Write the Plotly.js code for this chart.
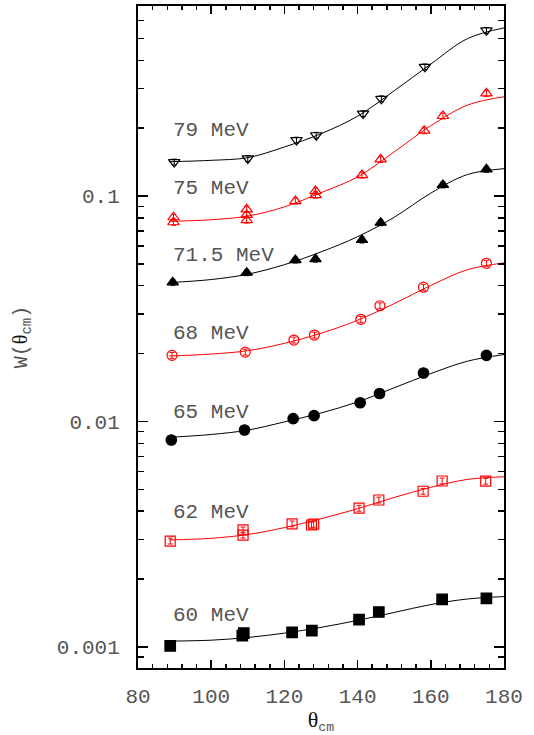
<!DOCTYPE html>
<html><head><meta charset="utf-8">
<script src="https://cdn.plot.ly/plotly-3.0.1.min.js"></script>
<style>html,body{margin:0;padding:0;background:#fff}</style>
</head><body><div id="chart" style="width:534px;height:735px"></div>
<script>
// measured points
const theta60 = [88.8, 108.5, 108.9, 122.1, 127.5, 140.4, 145.8, 163.1, 175.2];
const w60 = [0.00101, 0.00112, 0.00115, 0.00116, 0.001179, 0.001319, 0.001427, 0.001625, 0.001641];
const theta62 = [88.8, 108.7, 108.7, 122.1, 127.4, 128.0, 140.4, 145.8, 157.9, 163.1, 175.0];
const w62 = [0.002946, 0.00330, 0.00313, 0.00351, 0.00347, 0.00350, 0.00412, 0.00448, 0.00490, 0.00544, 0.00543];
const theta65 = [89.1, 109.1, 122.4, 128.1, 140.7, 146.0, 158.0, 175.2];
const w65 = [0.00827, 0.00916, 0.01028, 0.0106, 0.0121, 0.0133, 0.0164, 0.01964];
const theta68 = [89.3, 109.3, 122.6, 128.2, 140.9, 146.1, 158.0, 175.2];
const w68 = [0.01964, 0.0203, 0.02296, 0.02416, 0.02838, 0.0326, 0.0394, 0.0503];
const theta715 = [89.5, 109.7, 123.0, 128.5, 141.2, 146.3, 163.3, 175.2];
const w715 = [0.0414, 0.0457, 0.0520, 0.0525, 0.0638, 0.0761, 0.112, 0.1314];
const theta75 = [89.7, 89.7, 109.7, 109.7, 109.7, 123.0, 128.5, 128.5, 141.2, 146.3, 158.2, 163.3, 175.2];
const w75 = [0.0805, 0.0765, 0.0873, 0.0824, 0.0782, 0.0950, 0.1052, 0.1010, 0.1239, 0.1455, 0.1949, 0.2265, 0.2855];
const theta79 = [89.9, 110.0, 123.3, 128.7, 141.5, 146.5, 158.4, 175.2];
const w79 = [0.1415, 0.1468, 0.177, 0.186, 0.232, 0.270, 0.374, 0.543];

// fitted curves
const fitTheta = [88.5, 100, 110, 120, 130, 140, 150, 160, 170, 180];
const fit60 = [0.00106, 0.00107, 0.00110, 0.00115, 0.00122, 0.00131, 0.00142, 0.00154, 0.00163, 0.00167];
const fit62 = [0.00298, 0.00303, 0.00315, 0.00338, 0.00370, 0.00410, 0.00460, 0.00510, 0.00553, 0.00568];
const fit65 = [0.0085, 0.00875, 0.00915, 0.00995, 0.0109, 0.0122, 0.0141, 0.0163, 0.0185, 0.0198];
const fit68 = [0.0195, 0.0199, 0.0206, 0.0222, 0.0246, 0.0281, 0.0333, 0.0401, 0.0471, 0.0505];
const fit715 = [0.0413, 0.0426, 0.0450, 0.0496, 0.0565, 0.0660, 0.0805, 0.1030, 0.1245, 0.1322];
const fit75 = [0.0772, 0.0785, 0.0815, 0.0895, 0.1035, 0.1215, 0.157, 0.205, 0.253, 0.2757];
const fit79 = [0.142, 0.144, 0.148, 0.165, 0.189, 0.226, 0.293, 0.385, 0.499, 0.557];

const energyLabels = ['60 MeV', '62 MeV', '65 MeV', '68 MeV', '71.5 MeV', '75 MeV', '79 MeV'];
const labelY = [0.001384, 0.00395, 0.01094, 0.0246, 0.0542, 0.108, 0.196];
const labelTheta = 89.1;

const yMajor = [0.001, 0.01, 0.1];
const yMajorText = ['0.001', '0.01', '0.1'];
const yMinor = [0.0009, 0.002, 0.003, 0.004, 0.005, 0.006, 0.007, 0.008, 0.009,
                0.02, 0.03, 0.04, 0.05, 0.06, 0.07, 0.08, 0.09, 0.2, 0.3, 0.4, 0.5, 0.6];
const errPercent = 3;

const RED = '#ff0000', BLK = '#000000';
const series = [
  {t: theta60, w: w60, f: fit60, c: BLK, s: 'square', sz: 10.5},
  {t: theta62, w: w62, f: fit62, c: RED, s: 'square-open', sz: 10},
  {t: theta65, w: w65, f: fit65, c: BLK, s: 'circle', sz: 10.5},
  {t: theta68, w: w68, f: fit68, c: RED, s: 'circle-open', sz: 10},
  {t: theta715, w: w715, f: fit715, c: BLK, s: 'triangle-up', sz: 10},
  {t: theta75, w: w75, f: fit75, c: RED, s: 'triangle-up-open', sz: 10},
  {t: theta79, w: w79, f: fit79, c: BLK, s: 'triangle-down-open', sz: 10}
];

const traces = [];
series.forEach(s => {
  traces.push({x: fitTheta, y: s.f, mode: 'lines', line: {color: s.c, width: 1, shape: 'spline', smoothing: 1}, hoverinfo: 'skip', showlegend: false});
});
series.forEach(s => {
  traces.push({x: s.t, y: s.w, mode: 'markers',
    marker: {symbol: s.s, size: s.sz, color: s.c, line: {color: s.c, width: 1.2}},
    error_y: {type: 'percent', value: errPercent, color: s.c, thickness: 1, width: 2.5},
    showlegend: false});
});

const MONO = 'Liberation Mono, Courier New, monospace';
const TXT = '#555';
const annotations = energyLabels.map((txt, i) => ({
  x: labelTheta, y: Math.log10(labelY[i]), xref: 'x', yref: 'y', text: txt,
  showarrow: false, xanchor: 'left', yanchor: 'middle',
  font: {family: MONO, size: 21, color: TXT}
}));

const layout = {
  width: 534, height: 735,
  margin: {l: 138, r: 30, t: 6, b: 67},
  paper_bgcolor: '#fff', plot_bgcolor: '#fff',
  showlegend: false,
  font: {family: MONO, color: TXT, size: 21},
  xaxis: {
    range: [80, 180], tickmode: 'linear', tick0: 80, dtick: 20,
    ticks: 'inside', ticklen: 8, tickwidth: 1.5, tickcolor: '#000',
    showline: true, linewidth: 2, linecolor: '#000', mirror: 'ticks',
    showgrid: false, zeroline: false,
    minor: {dtick: 4, ticks: 'inside', ticklen: 4, tickwidth: 1.5, tickcolor: '#000', showgrid: false},
    ticklabelstandoff: 8,
    tickfont: {family: MONO, size: 21, color: TXT},
    title: {text: '<span style="font-family:' + "'Liberation Serif'" + ';font-size:22px;color:#111">θ</span><sub>cm</sub>', font: {family: MONO, size: 19, color: TXT}, standoff: 12}
  },
  yaxis: {
    type: 'log', range: [-3.094, -0.157],
    tickmode: 'array', tickvals: yMajor, ticktext: yMajorText,
    ticks: 'inside', ticklen: 10, tickwidth: 1.5, tickcolor: '#000',
    showline: true, linewidth: 2, linecolor: '#000', mirror: 'ticks',
    showgrid: false, zeroline: false,
    minor: {tickmode: 'array', tickvals: yMinor, ticks: 'inside', ticklen: 6, tickwidth: 1.5, tickcolor: '#000', showgrid: false},
    ticklabelstandoff: 12,
    tickfont: {family: MONO, size: 21, color: TXT},
    title: {text: 'W(<span style="font-family:' + "'Liberation Serif'" + ';color:#111">θ</span><sub>cm</sub>)', font: {family: MONO, size: 20, color: TXT}, standoff: 24}
  },
  annotations: annotations
};

Plotly.newPlot('chart', traces, layout, {displayModeBar: false, staticPlot: true});
</script></body></html>
